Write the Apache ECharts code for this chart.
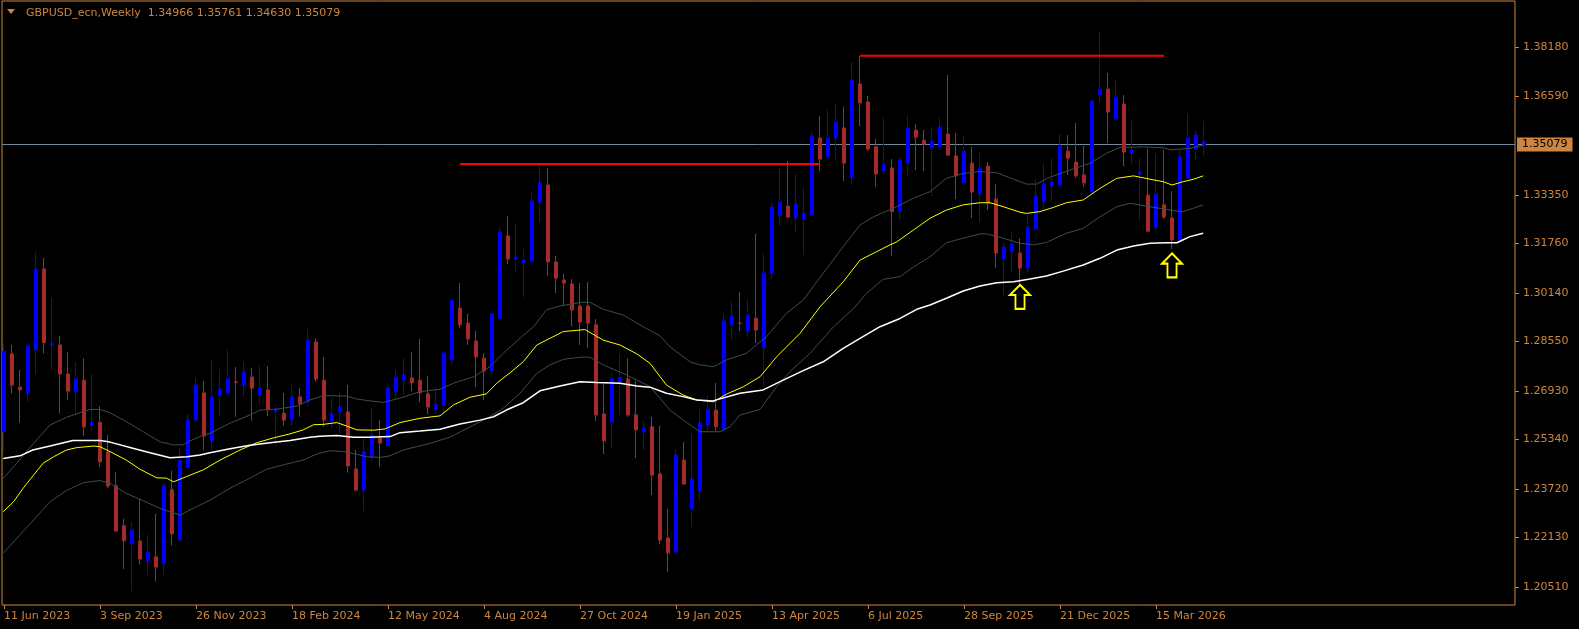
<!DOCTYPE html>
<html><head><meta charset="utf-8">
<script src="https://cdn.jsdelivr.net/npm/echarts@6/dist/echarts.min.js"></script>
<style>html,body{margin:0;padding:0;background:#000;}#c{width:1579px;height:629px;}</style>
</head><body><div id="c"></div>
<script>
const symbolName = 'GBPUSD_ecn';
const periodName = 'Weekly';
const headerOHLC = ['1.34966', '1.35761', '1.34630', '1.35079'];
const bidPrice = 1.35079;

const dateLabels = ['11 Jun 2023', '3 Sep 2023', '26 Nov 2023', '18 Feb 2024', '12 May 2024', '4 Aug 2024', '27 Oct 2024', '19 Jan 2025', '13 Apr 2025', '6 Jul 2025', '28 Sep 2025', '21 Dec 2025', '15 Mar 2026'];
const dateTickBars = [0, 12, 24, 36, 48, 60, 72, 84, 96, 108, 120, 132, 144];
const priceTickLabels = ['1.38180', '1.36590', '1.33350', '1.31760', '1.30140', '1.28550', '1.26930', '1.25340', '1.23720', '1.22130', '1.20510'];

const opens = [1.2559,1.2814,1.2705,1.2686,1.2828,1.3092,1.2843,1.2843,1.2748,1.2689,
1.2728,1.2579,1.2589,1.2493,1.2382,1.2251,1.2192,1.2201,1.2136,1.2149,
1.2127,1.2369,1.2205,1.2443,1.2598,1.2686,1.2529,1.2679,1.2686,1.2722,
1.2712,1.2738,1.2679,1.2696,1.2625,1.2620,1.2597,1.2673,1.2657,1.2853,
1.2728,1.2594,1.2624,1.2624,1.2437,1.2368,1.2476,1.2538,1.2513,1.2690,
1.2728,1.2735,1.2728,1.2683,1.2633,1.2647,1.2794,1.2964,1.2915,1.2856,
1.2800,1.2758,1.2931,1.3200,1.3125,1.3112,1.3118,1.3311,1.3367,1.3115,
1.3056,1.3043,1.2971,1.2971,1.2909,1.2617,1.2591,1.2722,1.2732,1.2614,
1.2558,1.2575,1.2421,1.2211,1.2165,1.2466,1.2306,1.2365,1.2581,1.2630,
1.2568,1.2909,1.2915,1.2889,1.2931,1.2834,1.3079,1.3266,1.3298,1.3259,
1.3256,1.3269,1.3521,1.3459,1.3521,1.3554,1.3393,1.3698,1.3639,1.3492,
1.3413,1.3423,1.3280,1.3439,1.3547,1.3514,1.3488,1.3492,1.3534,1.3462,
1.3374,1.3439,1.3338,1.3429,1.3321,1.3125,1.3148,1.3144,1.3095,1.3223,
1.3312,1.3364,1.3367,1.3478,1.3442,1.3400,1.3344,1.3662,1.3681,1.3583,
1.3632,1.3472,1.3403,1.3334,1.3229,1.3302,1.3259,1.3187,1.3390,1.3485,
1.34966];
const closes = [1.2823,1.2712,1.2696,1.2840,1.3092,1.2851,1.2847,1.2748,1.2692,1.2732,
1.2575,1.2588,1.2460,1.2381,1.2234,1.2202,1.2238,1.2142,1.2165,1.2116,
1.2382,1.2225,1.2464,1.2597,1.2712,1.2545,1.2673,1.2699,1.2732,1.2720,
1.2755,1.2702,1.2702,1.2631,1.2633,1.2597,1.2673,1.2651,1.2859,1.2732,
1.2597,1.2617,1.2640,1.2447,1.2368,1.2493,1.2548,1.2522,1.2702,1.2738,
1.2745,1.2719,1.2686,1.2640,1.2647,1.2817,1.2990,1.2909,1.2863,1.2804,
1.2758,1.2945,1.3213,1.3125,1.3131,1.3121,1.3315,1.3374,1.3115,1.3062,
1.3046,1.2958,1.2918,1.2915,1.2614,1.2529,1.2732,1.2738,1.2614,1.2565,
1.2571,1.2417,1.2204,1.2162,1.2483,1.2388,1.2404,1.2588,1.2633,1.2575,
1.2922,1.2938,1.2914,1.2941,1.2892,1.3079,1.3295,1.3311,1.3262,1.3305,
1.3275,1.3528,1.3452,1.3521,1.3573,1.3439,1.3711,1.3636,1.3485,1.3403,
1.3433,1.3280,1.3449,1.3554,1.3524,1.3501,1.3511,1.3557,1.3465,1.3397,
1.3478,1.3344,1.3423,1.3308,1.3144,1.3164,1.3174,1.3095,1.3229,1.3331,
1.3370,1.3377,1.3495,1.3455,1.3397,1.3374,1.3642,1.3681,1.3606,1.3655,
1.3475,1.3482,1.3410,1.3216,1.3338,1.3262,1.3187,1.3459,1.3521,1.3531,
1.35079];
const highs = [1.2849,1.2843,1.2761,1.2849,1.3145,1.3128,1.2997,1.2873,1.2820,1.2787,
1.2800,1.2748,1.2643,1.2548,1.2427,1.2274,1.2263,1.2340,1.2221,1.2290,
1.2392,1.2431,1.2506,1.2617,1.2735,1.2725,1.2794,1.2764,1.2830,1.2771,
1.2788,1.2768,1.2778,1.2774,1.2641,1.2686,1.2712,1.2702,1.2895,1.2863,
1.2804,1.2669,1.2686,1.2712,1.2499,1.2538,1.2637,1.2597,1.2712,1.2761,
1.2800,1.2820,1.2863,1.2742,1.2705,1.2818,1.2992,1.3046,1.2945,1.2889,
1.2817,1.2948,1.3229,1.3266,1.3239,1.3157,1.3341,1.3433,1.3423,1.3135,
1.3076,1.3059,1.3046,1.3049,1.2928,1.2715,1.2751,1.2814,1.2800,1.2725,
1.2594,1.2607,1.2578,1.2306,1.2502,1.2525,1.2552,1.2633,1.2679,1.2719,
1.2945,1.2987,1.3017,1.2994,1.3207,1.3144,1.3308,1.3423,1.3446,1.3403,
1.3361,1.3541,1.3593,1.3616,1.3632,1.3623,1.3770,1.3790,1.3659,1.3518,
1.3590,1.3452,1.3459,1.3596,1.3567,1.3547,1.3557,1.3590,1.3727,1.3537,
1.3528,1.3492,1.3472,1.3442,1.3370,1.3177,1.3216,1.3193,1.3269,1.3387,
1.3439,1.3455,1.3534,1.3531,1.3570,1.3495,1.3645,1.3868,1.3734,1.3714,
1.3662,1.3577,1.3455,1.3485,1.3469,1.3482,1.3347,1.3482,1.3600,1.3544,
1.35761];
const lows = [1.2488,1.2683,1.2589,1.2657,1.2748,1.2815,1.2761,1.2618,1.2663,1.2614,
1.2545,1.2561,1.2443,1.2375,1.2231,1.2109,1.2037,1.2124,1.2090,1.2068,
1.2090,1.2186,1.2200,1.2440,1.2589,1.2499,1.2499,1.2610,1.2683,1.2608,
1.2674,1.2595,1.2647,1.2611,1.2516,1.2578,1.2578,1.2608,1.2643,1.2723,
1.2575,1.2571,1.2543,1.2425,1.2363,1.2299,1.2463,1.2444,1.2510,1.2669,
1.2678,1.2692,1.2656,1.2617,1.2617,1.2619,1.2778,1.2899,1.2843,1.2705,
1.2663,1.2745,1.2928,1.3108,1.3085,1.3000,1.3115,1.3246,1.3069,1.3013,
1.2971,1.2905,1.2843,1.2833,1.2594,1.2486,1.2506,1.2614,1.2607,1.2473,
1.2499,1.2352,1.2191,1.2100,1.2159,1.2385,1.2247,1.2332,1.2561,1.2561,
1.2555,1.2859,1.2889,1.2869,1.2850,1.2705,1.3059,1.3233,1.3259,1.3210,
1.3138,1.3266,1.3413,1.3449,1.3452,1.3380,1.3367,1.3560,1.3478,1.3361,
1.3400,1.3135,1.3252,1.3397,1.3416,1.3413,1.3331,1.3482,1.3462,1.3321,
1.3372,1.3259,1.3246,1.3285,1.3095,1.3004,1.3082,1.3040,1.3082,1.3220,
1.3285,1.3311,1.3364,1.3400,1.3390,1.3361,1.3341,1.3639,1.3505,1.3580,
1.3429,1.3436,1.3249,1.3213,1.3216,1.3256,1.3157,1.3177,1.3387,1.3446,
1.34630];

// indicator lines: [bar, price]
const slowMA = [[-0.1,1.2471],[2,1.2480],[3.6,1.2499],[5.75,1.2512],[8.6,1.2530],[12,1.2530],[13.25,1.2525],[16.1,1.2505],[18.25,1.2490],[20.75,1.2474],[22.9,1.2477],[24.5,1.2483],[25.75,1.2490],[28.25,1.2503],[30.75,1.2515],[33.25,1.2523],[35.75,1.2530],[38.25,1.2541],[39.5,1.2544],[41.6,1.2547],[43.7,1.2541],[45.75,1.2541],[48.25,1.2543],[49.5,1.2556],[52,1.2561],[54.5,1.2567],[57,1.2584],[59.5,1.2597],[61.2,1.2608],[62.8,1.2630],[64.9,1.2654],[67,1.2693],[69.5,1.2709],[72,1.2723],[74.1,1.2720],[77,1.2718],[79.1,1.2709],[80.75,1.2705],[82.8,1.2685],[84.9,1.2674],[86.6,1.2663],[88.6,1.2660],[92,1.2685],[94.9,1.2696],[97.4,1.2728],[99.9,1.2759],[102.4,1.2788],[104.9,1.2832],[107,1.2865],[109.5,1.2903],[112,1.2930],[114.1,1.2960],[115.75,1.2974],[117.8,1.2996],[119.9,1.3020],[122,1.3036],[124.1,1.3047],[126.2,1.3050],[128.25,1.3059],[130.3,1.3069],[132.4,1.3085],[134.9,1.3105],[137,1.3127],[139.1,1.3154],[141.2,1.3167],[143.25,1.3176],[145.3,1.3178],[146.6,1.3178],[148.25,1.3198],[149.9,1.3209]];
const midBand = [[-0.1,1.2297],[1.2,1.2330],[2.4,1.2374],[3.7,1.2417],[4.9,1.2456],[6.2,1.2477],[7.8,1.2499],[9.1,1.2507],[11.2,1.2512],[12,1.2510],[13.25,1.2494],[15.3,1.2466],[17,1.2436],[19.1,1.2408],[20.3,1.2407],[21.2,1.2395],[22.8,1.2412],[24.9,1.2434],[27,1.2466],[29.5,1.2499],[31.6,1.2523],[33.7,1.2539],[35.75,1.2552],[37.4,1.2565],[38.7,1.2582],[39.9,1.2583],[41.6,1.2589],[42.8,1.2578],[44.1,1.2565],[46.2,1.2564],[47.6,1.2568],[49.5,1.2589],[52,1.2603],[54.5,1.2611],[56.2,1.2647],[58.25,1.2672],[60.3,1.2683],[61.6,1.2718],[63.25,1.2752],[64.9,1.2788],[66.6,1.2843],[68.25,1.2865],[69.9,1.2887],[72,1.2892],[72.6,1.2894],[74.9,1.2859],[77,1.2843],[79.1,1.2814],[80.75,1.2783],[82.8,1.2712],[84.9,1.2679],[86.6,1.2663],[88.7,1.2657],[90.3,1.2682],[92.4,1.2706],[94.5,1.2739],[96.6,1.2805],[99.5,1.2881],[102,1.2968],[104.9,1.3050],[107,1.3121],[109.1,1.3149],[110.75,1.3171],[111.6,1.3181],[113.7,1.3220],[115.75,1.3258],[117.8,1.3285],[119.9,1.3302],[122,1.3309],[123.25,1.3309],[124.9,1.3296],[127,1.3278],[127.8,1.3274],[129.5,1.3280],[131.1,1.3293],[132.8,1.3309],[134.9,1.3318],[137,1.3356],[139.1,1.3389],[141.2,1.3397],[143.25,1.3386],[144.9,1.3378],[146,1.3367],[147.4,1.3378],[148.7,1.3386],[149.9,1.3397]];
const upperBand = [[-0.1,1.2406],[1.6,1.2456],[3.7,1.2521],[5.75,1.2581],[7.8,1.2606],[9.9,1.2625],[10.75,1.2632],[12,1.2632],[13.25,1.2621],[15.3,1.2592],[17.4,1.2559],[19.5,1.2526],[21.2,1.2516],[22.4,1.2516],[23.25,1.2529],[24.5,1.2543],[25.75,1.2554],[28.25,1.2587],[30.75,1.2614],[32,1.2630],[34.1,1.2633],[36.6,1.2643],[38.25,1.2663],[39.9,1.2677],[42.8,1.2676],[44.1,1.2666],[45.75,1.2660],[47.4,1.2655],[49.5,1.2669],[52,1.2690],[54.5,1.2698],[56.2,1.2718],[58.7,1.2739],[60.75,1.2772],[62.4,1.2816],[64.5,1.2865],[66.2,1.2903],[67.8,1.2958],[69.5,1.2971],[72,1.2982],[73.25,1.2983],[74.9,1.2960],[77.4,1.2941],[79.9,1.2903],[82,1.2873],[83.25,1.2837],[85.75,1.2788],[87,1.2778],[88.7,1.2772],[90.3,1.2794],[92.8,1.2816],[95.3,1.2870],[97.8,1.2947],[99.9,1.2990],[102.4,1.3078],[104.9,1.3165],[107,1.3236],[108.7,1.3263],[111.6,1.3296],[113.7,1.3324],[115.75,1.3345],[117.8,1.3389],[119.9,1.3405],[122,1.3411],[124.1,1.3407],[126.2,1.3386],[127.8,1.3370],[129.1,1.3370],[130.5,1.3390],[133.25,1.3416],[135.75,1.3438],[137.8,1.3471],[139.5,1.3490],[142.4,1.3492],[144.9,1.3489],[145.75,1.3482],[148.25,1.3487],[149.9,1.3498]];
const lowerBand = [[-0.1,1.2161],[1.6,1.2210],[3.7,1.2270],[5.75,1.2330],[7.8,1.2366],[9.9,1.2392],[12,1.2399],[13.25,1.2390],[15.3,1.2357],[17.4,1.2333],[19.5,1.2308],[22,1.2286],[23.25,1.2303],[24.5,1.2319],[25.75,1.2335],[28.25,1.2374],[30.75,1.2407],[32.8,1.2436],[35.3,1.2453],[37.4,1.2466],[39.1,1.2486],[40.75,1.2497],[42.4,1.2494],[44.1,1.2485],[45.3,1.2477],[47,1.2475],[48.25,1.2480],[49.9,1.2499],[53.25,1.2521],[55.75,1.2541],[58.25,1.2575],[60.75,1.2608],[62.4,1.2636],[64.5,1.2685],[66.6,1.2750],[68.25,1.2778],[69.9,1.2796],[72,1.2803],[73.25,1.2803],[74.9,1.2778],[77.8,1.2745],[80.75,1.2707],[83.25,1.2630],[85.75,1.2581],[87,1.2559],[89.5,1.2559],[90.75,1.2575],[92,1.2614],[94.5,1.2632],[96.6,1.2707],[98.25,1.2756],[100.75,1.2816],[103.7,1.2903],[106.2,1.2963],[107.8,1.3012],[109.9,1.3058],[112,1.3067],[113.7,1.3099],[115.75,1.3132],[117.8,1.3178],[119.9,1.3193],[122,1.3207],[122.8,1.3207],[124.9,1.3193],[127,1.3176],[128.7,1.3171],[130.3,1.3179],[132.8,1.3209],[134.9,1.3225],[137,1.3263],[139.1,1.3296],[140.75,1.3307],[143.25,1.3296],[146.2,1.3283],[147.4,1.3280],[149.9,1.3302]];

// horizontal levels drawn on the chart
const levelStartBars = [57, 107];
const levelEndBars = [102, 145];
const levelPrices = [1.3436, 1.3790];

// arrow objects (tip price)
const arrowBars = [127, 146];
const arrowTipPrices = [1.3040, 1.3143];

const ORANGE = '#CD853F';
const FONT = 'DejaVu Sans';
const candleData = opens.map((o, i) => [i, o, closes[i], lows[i], highs[i]]);

const chart = echarts.init(document.getElementById('c'), null, {renderer: 'canvas'});

const levelSeries = levelPrices.map((p, k) => ({
  type: 'line', z: 6, silent: true, showSymbol: false, symbol: 'none',
  data: [[levelStartBars[k], p], [levelEndBars[k], p]],
  lineStyle: {color: '#FF0000', width: 2}
}));

const lineSeries = (data, color, width) => ({
  type: 'line', z: 4, silent: true, showSymbol: false, symbol: 'none',
  data: data, lineStyle: {color: color, width: width}
});

chart.setOption({
  animation: false,
  backgroundColor: '#000000',
  title: {
    text: symbolName + ',' + periodName + '  ' + headerOHLC.join(' '),
    left: 21, top: 3,
    textStyle: {color: ORANGE, fontSize: 11, fontWeight: 'normal', fontFamily: FONT}
  },
  graphic: [{
    type: 'polygon', shape: {points: [[7, 9], [15, 9], [11, 14]]},
    style: {fill: ORANGE}, silent: true, z: 10
  }],
  grid: {
    left: 2, right: 64, top: 1, bottom: 24,
    show: true, borderColor: ORANGE, borderWidth: 1, backgroundColor: '#000000'
  },
  xAxis: {
    type: 'value', min: -0.25, max: 188.875, position: 'bottom',
    axisLine: {show: false, onZero: false},
    splitLine: {show: false},
    axisTick: {show: true, length: 4, inside: false, customValues: dateTickBars, lineStyle: {color: ORANGE}},
    axisLabel: {
      show: true, customValues: dateTickBars, align: 'left', margin: 6,
      color: ORANGE, fontSize: 11, fontFamily: FONT,
      formatter: (v) => { const k = dateTickBars.indexOf(Math.round(v)); return k >= 0 ? dateLabels[k] : ''; }
    }
  },
  yAxis: {
    type: 'value', position: 'right', min: 1.19915, max: 1.39697, scale: true,
    axisLine: {show: false, onZero: false},
    splitLine: {show: false},
    axisTick: {show: true, length: 4, inside: false, customValues: priceTickLabels.map(parseFloat), lineStyle: {color: ORANGE}},
    axisLabel: {
      show: true, customValues: priceTickLabels.map(parseFloat), margin: 8,
      color: ORANGE, fontSize: 11, fontFamily: FONT,
      formatter: (v) => v.toFixed(5)
    }
  },
  series: [
    {
      type: 'line', z: 1, silent: true, data: [],
      markLine: {
        z: 1, silent: true, symbol: 'none', animation: false,
        lineStyle: {color: '#778899', width: 1, type: 'solid'},
        label: {
          show: true, position: 'end', distance: 2,
          formatter: () => bidPrice.toFixed(5),
          backgroundColor: ORANGE, color: '#000000', padding: [2, 5, 1, 5],
          fontSize: 11, fontFamily: FONT
        },
        data: [{yAxis: bidPrice}]
      }
    },
    {
      type: 'candlestick', z: 2, silent: true, barWidth: 4,
      data: candleData,
      itemStyle: {color: '#0000FF', color0: '#A52A2A', borderColor: '#0000FF', borderColor0: '#A52A2A', borderWidth: 1},
      markPoint: {
        z: 7, silent: true, animation: false,
        symbol: 'path://M11,0 L22,11 L16,11 L16,26 L6,26 L6,11 L0,11 Z',
        symbolSize: [20, 24], symbolOffset: [0, 12],
        itemStyle: {color: '#000000', borderColor: '#FFFF00', borderWidth: 2},
        label: {show: false},
        data: arrowBars.map((b, k) => ({coord: [b, arrowTipPrices[k]]}))
      }
    },
    lineSeries(upperBand, '#37504d', 1),
    lineSeries(lowerBand, '#37504d', 1),
    lineSeries(midBand, '#FFFF00', 1),
    lineSeries(slowMA, '#FFFFFF', 1.5),
    ...levelSeries
  ]
});
</script>
</body></html>
